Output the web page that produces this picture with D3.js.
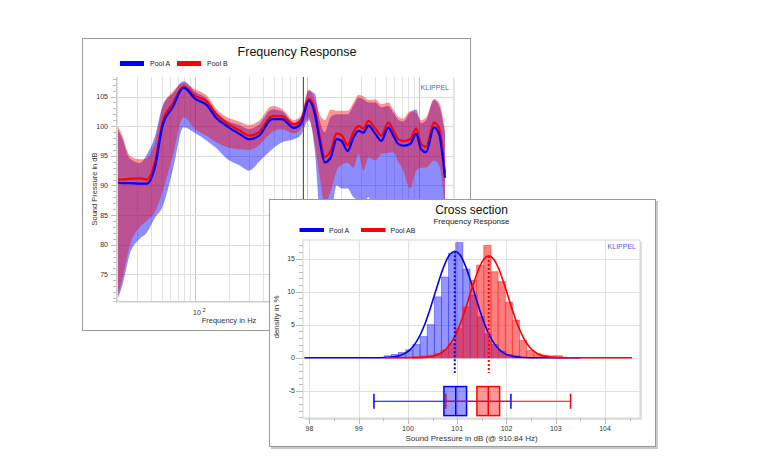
<!DOCTYPE html>
<html><head><meta charset="utf-8">
<script src="https://cdn.jsdelivr.net/npm/d3@7"></script>
<style>body{margin:0;background:#fff}svg{display:block;font-family:"Liberation Sans",Arial,sans-serif}</style>
</head><body><svg id="c" width="761" height="476"></svg>
<script>
// ---------- DATA: Frequency Response (top chart) ----------
const freqs = [20.4,22.2,26.1,32,36.9,43.5,51.2,62.8,78.6,100,126,154,189,247,303,371,485,594,759,876,1032,1167,1292,1431,1617,1828,2025,2290,2588,2866,3174,3515,4055,4585,5290,5860,6490,7186,8292,9374,10380,11498,13540,15000,16950];
const meanA = [90.5,90.4,90.4,90.3,90.3,93.0,100.2,103.2,106.5,104.6,103.6,101.4,100.1,98.7,97.8,98.4,101.2,101.2,99.7,100.4,104.3,102.1,97.5,93.9,94.7,97.8,97.5,95.8,98.1,99.2,98.9,100.1,98.7,97.5,99.8,98.4,97.0,96.7,97.0,98.7,96.1,95.6,99.8,98.7,91.3];
const meanB = [91.0,91.0,91.1,91.2,91.0,93.8,100.8,103.8,106.7,105.1,104.2,102.0,100.6,99.3,98.4,99.0,101.7,101.7,100.3,101.0,104.6,102.8,98.3,94.8,95.8,98.8,98.5,96.8,99.0,100.0,99.6,100.9,99.6,98.4,100.6,99.3,97.8,97.5,97.8,99.6,97.0,96.5,100.6,99.7,92.0];
const upperB = [100.0,98.5,95.0,94.4,94.6,97.2,103.3,105.8,107.3,106.2,105.2,102.9,101.6,100.8,100.2,100.9,103.4,102.9,101.0,101.8,106.2,104.5,102.0,101.0,102.8,102.6,102.6,102.6,104.0,105.3,105.0,104.4,104.5,103.7,104.0,102.8,101.6,101.3,102.5,102.2,101.0,101.5,104.6,104.0,99.5];
const lowerB = [71.5,74.0,80.0,83.0,84.0,85.5,89.0,95.0,101.5,99.5,98.4,97.3,96.5,96.1,96.0,96.8,99.0,99.5,98.8,99.5,101.5,97.0,91.5,87.0,89.0,92.5,93.5,93.8,93.0,95.3,92.5,94.7,94.2,95.3,95.5,95.6,94.0,92.5,89.5,92.5,93.0,93.0,94.2,93.5,86.0];
const upperA = [99.5,98.0,94.5,93.8,95.2,98.2,103.5,105.5,107.6,105.8,104.7,102.4,101.0,100.2,99.5,100.3,102.8,102.5,100.6,101.4,106.0,105.5,101.0,99.0,101.5,102.0,102.0,102.0,103.5,104.8,104.5,104.0,104.0,103.2,103.4,102.3,101.1,100.8,102.3,102.8,100.5,101.0,104.4,103.5,98.8];
const lowerA = [71.0,73.0,78.5,81.0,82.0,84.5,86.5,92.5,99.8,98.8,97.6,96.3,94.6,93.4,92.5,94.0,96.1,97.3,97.8,98.5,101.0,96.0,85.0,80.0,84.0,90.0,89.5,89.5,88.0,87.5,87.0,88.0,83.0,76.0,76.0,76.0,76.0,76.0,76.0,76.0,76.0,76.0,76.0,76.0,76.0];
const cursorFreq = 910.84;
const yTicks1 = [75,80,85,90,95,100,105];

// ---------- DATA: Cross section (bottom chart) ----------
const binWidth = 0.145;
const binStartA = [99.52,99.665,99.81,99.955,100.1,100.245,100.39,100.535,100.68,100.825,100.97,101.115,101.26,101.405,101.55,101.695,101.84,101.985,102.13];
const histA = [0.3,0.5,0.8,1.2,2.0,3.2,5.0,9.2,12.2,15.8,17.4,13.4,9.5,6.2,3.6,2.0,1.0,0.5,0.3];
const binStartB = [100.09,100.235,100.38,100.525,100.67,100.815,100.96,101.105,101.25,101.395,101.54,101.685,101.83,101.975,102.12,102.265,102.41,102.555,102.7,102.845,102.99];
const histB = [0.2,0.3,0.4,0.7,1.2,2.2,4.5,7.7,11.7,14.0,17.0,13.0,11.5,8.4,5.7,2.6,1.1,0.6,0.4,0.3,0.3];
const fitAx = [97.9,99.3,99.55,99.75,99.95,100.05,100.15,100.25,100.35,100.45,100.55,100.65,100.75,100.85,100.95,101.05,101.15,101.25,101.35,101.45,101.55,101.65,101.75,101.85,101.95,102.15,102.35,102.6,103.5];
const fitAy = [0,0,0.04,0.18,0.71,1.28,2.18,3.48,5.23,7.37,9.77,12.15,14.2,15.6,16.1,15.6,14.2,12.15,9.77,7.37,5.23,3.48,2.18,1.28,0.71,0.18,0.04,0,0];
const fitBx = [99.55,100.24,100.44,100.64,100.74,100.84,100.94,101.04,101.14,101.24,101.34,101.44,101.54,101.64,101.74,101.84,101.94,102.04,102.14,102.24,102.34,102.44,102.54,102.64,102.84,103.04,103.3,104.55];
const fitBy = [0,0.02,0.14,0.58,1.07,1.88,3.08,4.72,6.77,9.1,11.46,13.5,14.9,15.4,14.9,13.5,11.46,9.1,6.77,4.72,3.08,1.88,1.07,0.58,0.14,0.02,0,0];
const meanVals = [100.95, 101.64];
const boxA = [99.31,100.73,100.97,101.19,102.09]; // min, q1, median, q3, max
const boxB = [100.77,101.40,101.63,101.86,103.30];
const xTicks2 = [98,99,100,101,102,103,104];
const yTicks2 = [-5,0,5,10,15];

// ---------- DRAW ----------
const svg = d3.select("#c");
const BLUE = "#0000ff", RED = "#ff0000";

// ===== Panel 1 =====
svg.append("rect").attr("x",82.5).attr("y",38.5).attr("width",388).attr("height",292)
  .attr("fill","#fff").attr("stroke","#9a9a9a");
svg.append("text").attr("x",297).attr("y",55.5).attr("text-anchor","middle")
  .attr("font-size",12.5).attr("fill","#111").text("Frequency Response");
// legend
[[BLUE,"Pool A",120],[RED,"Pool B",177]].forEach(([c,t,x])=>{
  svg.append("line").attr("x1",x).attr("x2",x+24).attr("y1",63.5).attr("y2",63.5).attr("stroke",c).attr("stroke-width",5);
  svg.append("text").attr("x",x+30).attr("y",66).attr("font-size",7).attr("fill","#222").text(t);
});

const X1 = d3.scaleLog().domain([20,20000]).range([117,453]);
const Y1 = d3.scaleLinear().domain([70.5,108.3]).range([301,77]);
const g1 = svg.append("g");
// plot shadow and frame
g1.append("rect").attr("x",119).attr("y",79).attr("width",336).attr("height",224).attr("fill","#e6e6e6");
g1.append("rect").attr("x",117).attr("y",77).attr("width",336).attr("height",224).attr("fill","#fff");
// vertical grid
const vgrid=[];
[10,100,1000,10000].forEach(d=>{for(let m=1;m<=9;m++){const f=d*m;if(f>=20&&f<=20000)vgrid.push(f);}});
g1.selectAll(".vg").data(vgrid).join("line")
  .attr("x1",d=>Math.round(X1(d))+0.5).attr("x2",d=>Math.round(X1(d))+0.5).attr("y1",77).attr("y2",301)
  .attr("stroke",d=>[100,1000,10000].includes(d)?"#c4c4c4":"#e2e2e2");
g1.selectAll(".hg").data(yTicks1).join("line")
  .attr("x1",117).attr("x2",453).attr("y1",d=>Math.round(Y1(d))+0.5).attr("y2",d=>Math.round(Y1(d))+0.5)
  .attr("stroke","#dcdcdc");
// y minor ticks
g1.selectAll(".ym").data(d3.range(71,109)).join("line")
  .attr("x1",d=>d%5===0?111:113).attr("x2",117).attr("y1",d=>Math.round(Y1(d))+0.5).attr("y2",d=>Math.round(Y1(d))+0.5)
  .attr("stroke","#bbb");
g1.append("line").attr("x1",116.5).attr("x2",116.5).attr("y1",77).attr("y2",303).attr("stroke","#ccc");
g1.append("line").attr("x1",113).attr("x2",455).attr("y1",301.5).attr("y2",301.5).attr("stroke","#ccc");
g1.selectAll(".yl").data(yTicks1).join("text")
  .attr("x",108).attr("y",d=>Y1(d)+2.5).attr("text-anchor","end").attr("font-size",7).attr("fill","#333").text(d=>d);
// clip
svg.append("clipPath").attr("id","cp1").append("rect").attr("x",117).attr("y",77).attr("width",336).attr("height",224);
const pts = freqs.map((f,i)=>({f,i}));
const area = (lo,up)=>d3.area().x(d=>X1(d.f)).y0(d=>Y1(lo[d.i])).y1(d=>Y1(up[d.i])).curve(d3.curveMonotoneX);
const line = (arr)=>d3.line().x(d=>X1(d.f)).y(d=>Y1(arr[d.i])).curve(d3.curveMonotoneX);
const gc = g1.append("g").attr("clip-path","url(#cp1)");
gc.append("path").attr("d",area(lowerA,upperA)(pts)).attr("fill","rgba(0,0,255,0.45)");
gc.append("path").attr("d",area(lowerB,upperB)(pts)).attr("fill","rgba(255,0,0,0.42)");
gc.append("line").attr("x1",Math.round(X1(cursorFreq))+0.5).attr("x2",Math.round(X1(cursorFreq))+0.5)
  .attr("y1",77).attr("y2",301).attr("stroke","#555").attr("stroke-width",1);
gc.append("path").attr("d",line(meanB)(pts)).attr("fill","none").attr("stroke",RED).attr("stroke-width",2.2);
gc.append("path").attr("d",line(meanA)(pts)).attr("fill","none").attr("stroke",BLUE).attr("stroke-width",2.2);
g1.append("text").attr("x",449).attr("y",90).attr("text-anchor","end").attr("font-size",7).attr("fill","#5b5bd6").text("KLIPPEL");
// axis labels
const t10 = g1.append("text").attr("x",X1(100)+4).attr("y",315).attr("text-anchor","middle").attr("font-size",7).attr("fill","#333");
t10.append("tspan").text("10");
t10.append("tspan").attr("dy",-3).attr("font-size",5.5).text(" 2");
g1.append("text").attr("x",229).attr("y",323).attr("text-anchor","middle").attr("font-size",7.5).attr("fill","#333").text("Frequency in Hz");
g1.append("text").attr("transform","translate(97,189) rotate(-90)").attr("text-anchor","middle").attr("font-size",7.5).attr("fill","#333").text("Sound Pressure in dB");

// ===== Panel 2 =====
svg.append("rect").attr("x",271).attr("y",201).attr("width",387).attr("height",248).attr("fill","#c8c8c8");
svg.append("rect").attr("x",269.5).attr("y",199.5).attr("width",386).attr("height",247).attr("fill","#fff").attr("stroke","#9a9a9a");
svg.append("text").attr("x",471.5).attr("y",214).attr("text-anchor","middle").attr("font-size",12).attr("fill","#111").text("Cross section");
svg.append("text").attr("x",471.5).attr("y",223.5).attr("text-anchor","middle").attr("font-size",8).attr("fill","#222").text("Frequency Response");
[[BLUE,"Pool A",299.5],[RED,"Pool AB",361]].forEach(([c,t,x])=>{
  svg.append("line").attr("x1",x).attr("x2",x+24.5).attr("y1",230).attr("y2",230).attr("stroke",c).attr("stroke-width",4);
  svg.append("text").attr("x",x+29.5).attr("y",232.5).attr("font-size",7).attr("fill","#222").text(t);
});
const X2 = d3.scaleLinear().domain([97.87,104.71]).range([303,640]);
const Y2 = d3.scaleLinear().domain([-9.1,17.8]).range([418,240]);
const g2 = svg.append("g");
g2.append("rect").attr("x",305).attr("y",242).attr("width",337).attr("height",178).attr("fill","#e2e2e2");
g2.append("rect").attr("x",303).attr("y",240).attr("width",337).attr("height",178).attr("fill","#fff").attr("stroke","#d4d4d4");
g2.selectAll(".vg").data(xTicks2).join("line")
  .attr("x1",d=>Math.round(X2(d))+0.5).attr("x2",d=>Math.round(X2(d))+0.5).attr("y1",240).attr("y2",418).attr("stroke","#e0e0e0");
g2.selectAll(".hg").data(yTicks2).join("line")
  .attr("x1",303).attr("x2",640).attr("y1",d=>Math.round(Y2(d))+0.5).attr("y2",d=>Math.round(Y2(d))+0.5).attr("stroke","#e0e0e0");
g2.selectAll(".ym").data(d3.range(-9,18)).join("line")
  .attr("x1",d=>d%5===0?296:299).attr("x2",303).attr("y1",d=>Math.round(Y2(d))+0.5).attr("y2",d=>Math.round(Y2(d))+0.5).attr("stroke","#bbb");
g2.selectAll(".xm").data(d3.range(98,104.75,0.5)).join("line")
  .attr("x1",d=>Math.round(X2(d))+0.5).attr("x2",d=>Math.round(X2(d))+0.5).attr("y1",418).attr("y2",d=>Number.isInteger(d)?424:421).attr("stroke","#bbb");
g2.selectAll(".yl").data(yTicks2).join("text")
  .attr("x",295).attr("y",d=>Y2(d)+2.5).attr("text-anchor","end").attr("font-size",7).attr("fill","#333").text(d=>d);
g2.selectAll(".xl").data(xTicks2).join("text")
  .attr("x",d=>X2(d)).attr("y",431).attr("text-anchor","middle").attr("font-size",7).attr("fill","#333").text(d=>d);
g2.append("text").attr("x",471.5).attr("y",440.5).attr("text-anchor","middle").attr("font-size",8).attr("fill","#333").text("Sound Pressure in dB (@ 910.84 Hz)");
g2.append("text").attr("transform","translate(279,317) rotate(-90)").attr("text-anchor","middle").attr("font-size",8).attr("fill","#333").text("density in %");
g2.append("text").attr("x",636).attr("y",249).attr("text-anchor","end").attr("font-size",7).attr("fill","#5b5bd6").text("KLIPPEL");

// histograms
const bars = (starts,vals,fill,stroke)=>g2.append("g").selectAll("rect").data(starts.map((s,i)=>({s,v:vals[i]}))).join("rect")
  .attr("x",d=>X2(d.s)).attr("width",d=>X2(d.s+binWidth)-X2(d.s)).attr("y",d=>Y2(d.v)).attr("height",d=>Y2(0)-Y2(d.v))
  .attr("fill",fill).attr("stroke",stroke).attr("stroke-width",0.8);
bars(binStartA,histA,"rgba(0,0,255,0.42)","rgba(60,60,255,0.6)");
bars(binStartB,histB,"rgba(255,0,0,0.5)","rgba(255,60,60,0.7)");
// fits
const fitLine = d3.line().x(d=>X2(d[0])).y(d=>Y2(d[1])).curve(d3.curveMonotoneX);
g2.append("path").attr("d",fitLine(fitAx.map((x,i)=>[x,fitAy[i]]))).attr("fill","none").attr("stroke",BLUE).attr("stroke-width",1.6);
g2.append("path").attr("d",fitLine(fitBx.map((x,i)=>[x,fitBy[i]]))).attr("fill","none").attr("stroke",RED).attr("stroke-width",1.6);
// mean dotted lines
const peaks=[d3.max(fitAy),d3.max(fitBy)];
[BLUE,RED].forEach((c,i)=>{
  g2.append("line").attr("x1",X2(meanVals[i])).attr("x2",X2(meanVals[i])).attr("y1",Y2(peaks[i])).attr("y2",Y2(-2.3))
    .attr("stroke",c).attr("stroke-width",2).attr("stroke-dasharray","2,2");
});
// box plots
const drawBox=(b,c,fill)=>{
  const gb=g2.append("g");
  const yTop=Y2(-4.35), yBot=Y2(-8.74), yMid=Y2(-6.57);
  gb.append("line").attr("x1",X2(b[0])).attr("x2",X2(b[4])).attr("y1",yMid).attr("y2",yMid).attr("stroke",c).attr("stroke-width",1.2);
  [b[0],b[4]].forEach(v=>gb.append("line").attr("x1",X2(v)).attr("x2",X2(v)).attr("y1",yMid-7.5).attr("y2",yMid+7.5).attr("stroke",c).attr("stroke-width",1.5));
  gb.append("rect").attr("x",X2(b[1])).attr("width",X2(b[3])-X2(b[1])).attr("y",yTop).attr("height",yBot-yTop).attr("fill",fill).attr("stroke",c).attr("stroke-width",1.5);
  gb.append("line").attr("x1",X2(b[2])).attr("x2",X2(b[2])).attr("y1",yTop).attr("y2",yBot).attr("stroke",c).attr("stroke-width",1.5);
};
drawBox(boxA,BLUE,"rgba(0,0,255,0.4)");
drawBox(boxB,RED,"rgba(255,0,0,0.4)");
</script></body></html>
